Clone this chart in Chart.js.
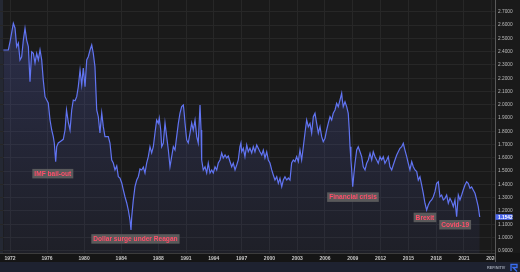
<!DOCTYPE html>
<html><head><meta charset="utf-8">
<script src="https://cdn.jsdelivr.net/npm/chart.js@4/dist/chart.umd.min.js"></script>
<style>html,body{margin:0;padding:0;background:#1a1a1a;overflow:hidden}#wrap{position:relative;width:520px;height:272px}</style>
</head><body><div id="wrap"><canvas id="c" width="520" height="272"></canvas></div>
<script>
// GBP/USD, decimal years
const years = [1971.28,1971.82,1972.00,1972.36,1972.54,1972.72,1972.90,1973.08,1973.26,1973.44,1973.62,1973.80,1973.98,1974.16,1974.34,1974.52,1974.70,1974.88,1975.06,1975.24,1975.42,1975.59,1975.78,1975.96,1976.13,1976.32,1976.50,1976.67,1976.78,1976.93,1977.04,1977.21,1977.40,1977.75,1977.94,1978.10,1978.29,1978.48,1978.66,1978.83,1979.02,1979.20,1979.37,1979.56,1979.74,1979.91,1980.10,1980.28,1980.45,1980.64,1980.82,1980.99,1981.17,1981.36,1981.53,1981.71,1981.90,1982.07,1982.25,1982.61,1982.79,1982.98,1983.15,1983.33,1983.52,1983.69,1983.87,1984.06,1984.23,1984.41,1984.60,1984.77,1984.95,1985.06,1985.14,1985.31,1985.49,1985.68,1985.85,1986.03,
1986.22,1986.39,1986.57,1986.75,1986.93,1987.11,1987.29,1987.47,1987.65,1987.83,1988.01,1988.11,1988.27,1988.37,1988.55,1988.73,1988.91,1989.09,1989.27,1989.45,1989.63,1989.81,1989.99,1990.17,1990.35,1990.53,1990.71,1990.80,1990.89,1991.07,1991.24,1991.43,1991.61,1991.78,1991.97,1992.15,1992.32,1992.51,1992.62,1992.69,1992.86,1993.05,1993.23,1993.40,1993.59,1993.77,1993.94,1994.13,1994.31,1994.48,1994.67,1994.85,1995.02,1995.21,1995.39,1995.56,1995.75,
1995.93,1996.10,1996.29,1996.47,1996.64,1996.82,1996.93,1997.01,1997.18,1997.36,1997.55,1997.72,1997.90,1998.09,1998.26,1998.44,1998.63,1998.80,1998.98,1999.17,1999.34,1999.52,1999.71,1999.88,2000.06,2000.25,2000.42,2000.60,2000.79,2000.96,2001.14,2001.33,2001.50,2001.68,2001.87,2002.04,2002.22,2002.40,2002.58,2002.76,2002.94,2003.12,2003.30,2003.48,2003.66,2003.84,2004.02,2004.20,2004.38,
2004.56,2004.74,2004.92,2005.10,2005.28,2005.46,2005.64,2005.81,2006.00,2006.18,2006.35,2006.54,2006.72,2006.89,2007.08,2007.26,2007.43,2007.62,2007.80,2007.87,2007.97,2008.16,2008.34,2008.51,2008.62,2008.70,2008.80,2008.88,2008.99,2009.13,2009.24,2009.42,2009.59,2009.78,2009.96,2010.13,2010.32,2010.50,2010.67,2010.86,2011.04,2011.21,2011.40,2011.58,2011.75,2011.94,2012.12,2012.29,2012.47,2012.66,2012.83,2013.01,2013.20,2013.37,2013.55,2013.74,2013.91,2014.09,
2014.28,2014.45,2014.63,2014.82,2014.99,2015.17,2015.36,2015.53,2015.71,2015.90,2016.07,2016.25,2016.43,2016.61,2016.79,2016.97,2017.15,2017.33,2017.51,2017.69,2017.87,2018.05,2018.23,2018.41,2018.59,2018.77,2018.95,2019.13,2019.31,2019.49,2019.67,2019.85,2020.03,2020.21,2020.39,2020.57,2020.75,2020.92,2021.11,2021.29,2021.46,2021.65,2021.83,2022.00,2022.19,2022.37,2022.54,2022.70];
const rates = [2.413,2.413,2.475,2.614,2.579,2.438,2.466,2.338,2.362,2.488,2.576,2.488,2.438,2.174,2.400,2.388,2.315,2.388,2.338,2.413,2.338,2.187,2.061,2.036,2.014,1.885,1.810,1.760,1.712,1.571,1.684,1.712,1.722,1.740,1.810,1.961,1.870,1.810,1.961,2.036,2.030,2.061,2.136,2.262,2.149,2.277,2.136,2.338,2.362,2.413,2.451,2.388,2.287,1.961,1.910,1.787,1.938,1.835,1.760,1.760,1.712,1.584,1.561,1.509,1.539,1.458,1.448,1.411,1.358,1.307,1.260,1.207,1.132,1.056,1.157,1.283,1.383,1.433,1.458,1.516,
1.509,1.531,1.486,1.561,1.609,1.684,1.637,1.684,1.787,1.885,1.860,1.900,1.810,1.684,1.712,1.863,1.760,1.659,1.533,1.609,1.684,1.659,1.760,1.860,1.938,1.986,1.998,1.938,1.863,1.735,1.712,1.787,1.863,1.810,1.885,1.760,1.712,1.998,1.810,1.584,1.509,1.533,1.486,1.561,1.486,1.509,1.486,1.533,1.509,1.561,1.584,1.637,1.599,1.622,1.599,1.614,1.571,
1.533,1.561,1.509,1.546,1.584,1.684,1.712,1.646,1.672,1.609,1.697,1.646,1.672,1.637,1.684,1.646,1.697,1.672,1.646,1.622,1.659,1.599,1.646,1.584,1.561,1.509,1.471,1.433,1.458,1.408,1.446,1.383,1.433,1.458,1.433,1.448,1.433,1.561,1.584,1.571,1.609,1.571,1.659,1.584,1.684,1.787,1.885,1.835,1.860,
1.787,1.910,1.936,1.860,1.787,1.835,1.760,1.722,1.748,1.810,1.860,1.910,1.885,1.936,1.961,2.011,1.986,2.036,2.087,2.036,1.986,2.023,1.986,1.936,1.810,1.684,1.584,1.509,1.383,1.486,1.559,1.659,1.684,1.646,1.609,1.533,1.509,1.559,1.584,1.634,1.584,1.646,1.609,1.584,1.559,1.609,1.584,1.609,1.559,1.584,1.609,1.533,1.509,1.546,1.584,1.622,1.646,1.672,
1.684,1.710,1.659,1.609,1.559,1.509,1.571,1.533,1.509,1.496,1.433,1.458,1.396,1.333,1.258,1.207,1.245,1.270,1.283,1.307,1.345,1.408,1.420,1.307,1.320,1.283,1.295,1.320,1.258,1.295,1.270,1.232,1.283,1.157,1.320,1.283,1.320,1.358,1.396,1.420,1.408,1.371,1.381,1.358,1.333,1.283,1.232,1.1542];

const xTickYears = [1972,1976,1980,1984,1988,1991,1994,1997,2000,2003,2006,2009,2012,2015,2018,2021,2024];
const yTickValues = [0.9,1.0,1.1,1.2,1.3,1.4,1.5,1.6,1.7,1.8,1.9,2.0,2.1,2.2,2.3,2.4,2.5,2.6,2.7,2.8];
const annotationLabels = ['IMF bail-out','Dollar surge under Reagan','Financial crisis','Brexit','Covid-19'];
const annotationYears = [1976.62,1985.54,2009.02,2016.79,2020.05];
const annotationRates = [1.481,0.989,1.304,1.151,1.096];
const lastValueText = '1.1542';
const sourceText = 'REFINITIV';

const points = years.map((y,i)=>({x:y,y:rates[i]}));

const bgPlugin = {
  id:'bg',
  beforeDraw(chart){
    const {ctx, chartArea:a} = chart;
    ctx.save();
    ctx.fillStyle='#1a1a1a'; ctx.fillRect(0,0,520,272);
    ctx.fillStyle='#151515'; ctx.fillRect(0,a.bottom,520,262-a.bottom);
    ctx.fillStyle='#1e2230'; ctx.fillRect(0,262,520,10);
    ctx.fillStyle='#242833'; ctx.fillRect(0,0,3,a.bottom);
    ctx.restore();
  },
  afterDraw(chart){
    const {ctx, chartArea:a, scales} = chart;
    ctx.save();
    // clip x label beyond panel
    ctx.fillStyle='#151515'; ctx.fillRect(a.right+0.5,a.bottom,520-a.right,262-a.bottom);
    ctx.strokeStyle='#5a5a5a'; ctx.lineWidth=1;
    ctx.beginPath(); ctx.moveTo(a.right+0.5,0); ctx.lineTo(a.right+0.5,262); ctx.stroke();
    // annotations
    ctx.font='bold 6.6px "Liberation Sans", Arial, sans-serif';
    ctx.textAlign='center'; ctx.textBaseline='middle';
    annotationLabels.forEach((t,i)=>{
      const px=scales.x.getPixelForValue(annotationYears[i]);
      const py=scales.y.getPixelForValue(annotationRates[i]);
      const w=ctx.measureText(t).width+4, h=9.5;
      ctx.fillStyle='rgba(95,95,95,0.9)';
      ctx.fillRect(px-w/2,py-h/2,w,h);
      ctx.fillStyle='#ff4f6a';
      ctx.fillText(t,px,py+0.5);
    });
    // last value tag
    const ly=scales.y.getPixelForValue(rates[rates.length-1]);
    ctx.fillStyle='#4d68ee';
    ctx.fillRect(a.right+0.5,ly-2.8,17,5.6);
    ctx.fillStyle='#ffffff';
    ctx.font='bold 4.8px "Liberation Sans", Arial, sans-serif';
    ctx.textAlign='left';
    ctx.fillText(lastValueText,a.right+3,ly+0.3);
    // source
    ctx.fillStyle='#9aa0ad';
    ctx.font='bold 3.8px "Liberation Sans", Arial, sans-serif';
    ctx.fillText(sourceText,487,267.5);
    ctx.strokeStyle='#3a6df0'; ctx.lineWidth=1.3;
    ctx.beginPath(); ctx.moveTo(511,271); ctx.lineTo(511,264.5); ctx.lineTo(517,264.5); ctx.lineTo(517,267.5); ctx.lineTo(513,267.5); ctx.lineTo(517,271.5); ctx.stroke();
    ctx.restore();
  }
};

new Chart(document.getElementById('c'),{
  type:'line',
  data:{datasets:[{
    data:points,
    borderColor:'#6174f2',
    borderWidth:1.2,
    pointRadius:0,
    tension:0,
    fill:'start',
    backgroundColor(ctx){
      const a=ctx.chart.chartArea; if(!a) return 'rgba(80,90,180,0.2)';
      const g=ctx.chart.ctx.createLinearGradient(0,a.top,0,a.bottom);
      g.addColorStop(0,'rgba(90,100,200,0.30)');
      g.addColorStop(1,'rgba(70,80,160,0.10)');
      return g;
    }
  }]},
  options:{
    responsive:false, animation:false, devicePixelRatio:1,
    layout:{padding:0},
    plugins:{legend:{display:false},tooltip:{enabled:false}},
    scales:{
      x:{type:'linear',min:1970.92,max:2024.35,
        afterBuildTicks(s){s.ticks=xTickYears.map(v=>({value:v}));},
        afterFit(s){s.height=19;s.paddingLeft=0;s.paddingRight=0;},
        grid:{color:'#272727',lineWidth:1,drawTicks:false},
        border:{color:'#3c3c3c'},
        ticks:{padding:2.5,maxRotation:0,autoSkip:false,color:'#c8c8c8',font:{size:5,weight:'bold',family:'"Liberation Sans", Arial, sans-serif'},callback:v=>String(v)}
      },
      y:{type:'linear',position:'right',min:0.883,max:2.7897,
        afterBuildTicks(s){s.ticks=yTickValues.map(v=>({value:v}));},
        afterFit(s){s.width=25;s.paddingTop=0;s.paddingBottom=0;},
        grid:{color:'#272727',lineWidth:1,drawTicks:false},
        border:{display:false},
        ticks:{padding:3,autoSkip:false,color:'#bdbdbd',font:{size:4.8,family:'"Liberation Sans", Arial, sans-serif'},callback:v=>Number(v).toFixed(4)}
      }
    }
  },
  plugins:[bgPlugin]
});
</script></body></html>
